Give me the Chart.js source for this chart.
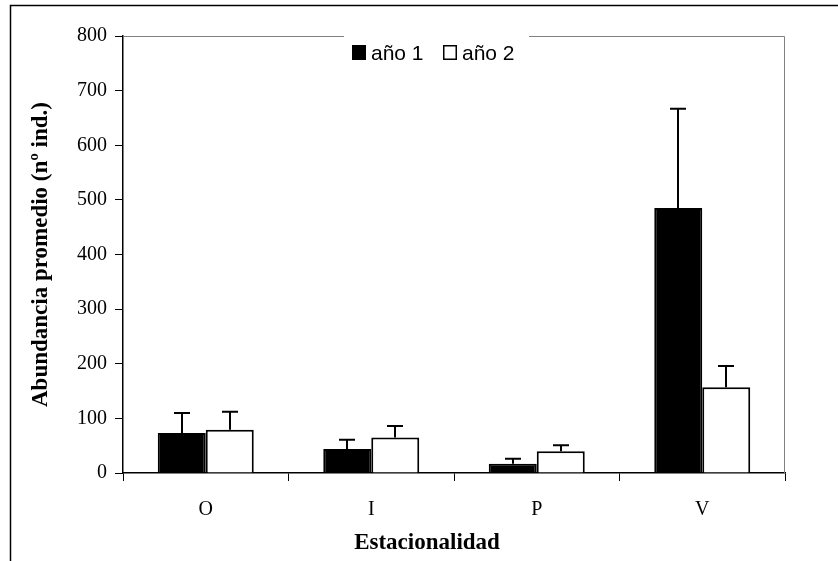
<!DOCTYPE html>
<html>
<head>
<meta charset="utf-8">
<script src="https://cdn.jsdelivr.net/npm/chart.js@4"></script>
<style>
html,body{margin:0;padding:0;background:#fff;}
#wrap{position:relative;width:838px;height:561px;}
</style>
</head>
<body>
<div id="wrap"><canvas id="c" width="838" height="561"></canvas></div>
<script>
const categories = ['O', 'I', 'P', 'V'];
const seriesNames = ['año 1', 'año 2'];
const year1 = [73, 44, 17, 485];
const year2 = [79, 65, 40, 157];
const year1Err = [37, 17, 9, 182];
const year2Err = [33, 21, 11, 39];
const yTicks = [0, 100, 200, 300, 400, 500, 600, 700, 800];
const yTitle = 'Abundancia promedio (nº ind.)';
const xTitle = 'Estacionalidad';

const errors = [year1Err, year2Err];

const decorPlugin = {
  id: 'decor',
  beforeDraw(chart) {
    const ctx = chart.ctx;
    ctx.save();
    ctx.fillStyle = '#fff';
    ctx.fillRect(0, 0, chart.width, chart.height);
    ctx.strokeStyle = '#000';
    ctx.lineWidth = 1.5;
    ctx.beginPath();
    ctx.moveTo(10.5, chart.height);
    ctx.lineTo(10.5, 5.5);
    ctx.lineTo(chart.width, 5.5);
    ctx.stroke();
    ctx.restore();
  },
  afterDatasetsDraw(chart) {
    const ctx = chart.ctx;
    const y = chart.scales.y;
    ctx.save();
    ctx.strokeStyle = '#000';
    ctx.lineWidth = 2;
    chart.data.datasets.forEach((ds, di) => {
      const meta = chart.getDatasetMeta(di);
      meta.data.forEach((el, i) => {
        const top = y.getPixelForValue(ds.data[i] + errors[di][i]);
        const x = Math.round(el.x);
        ctx.beginPath();
        ctx.moveTo(x, el.y);
        ctx.lineTo(x, top);
        ctx.moveTo(x - 8, top);
        ctx.lineTo(x + 8, top);
        ctx.stroke();
      });
    });
    ctx.restore();
  },
  afterDraw(chart) {
    const ctx = chart.ctx;
    const a = chart.chartArea;
    ctx.save();
    // plot frame top and right (gray)
    ctx.strokeStyle = '#808080';
    ctx.lineWidth = 1;
    ctx.beginPath();
    ctx.moveTo(a.left, a.top + 0.5);
    ctx.lineTo(a.right - 0.5, a.top + 0.5);
    ctx.lineTo(a.right - 0.5, a.bottom);
    ctx.stroke();
    // x axis title (offset left of plot centre as in the original)
    ctx.fillStyle = '#000';
    ctx.font = 'bold 23px "Liberation Serif", "Times New Roman", serif';
    ctx.textAlign = 'center';
    ctx.textBaseline = 'alphabetic';
    ctx.fillText(xTitle, a.left + 304, chart.height - 12);
    // legend
    const lx = a.left + 221;
    ctx.fillStyle = '#fff';
    ctx.fillRect(lx, a.top - 4, 185, 36);
    ctx.font = '21px "Liberation Sans", Arial, sans-serif';
    ctx.textAlign = 'left';
    const items = [
      {x: lx + 8, fill: '#000', label: chart.data.datasets[0].label},
      {x: lx + 99, fill: '#fff', label: chart.data.datasets[1].label}
    ];
    items.forEach(it => {
      ctx.fillStyle = it.fill;
      ctx.fillRect(it.x, a.top + 9, 14, 15);
      ctx.strokeStyle = '#000';
      ctx.lineWidth = 1.5;
      ctx.strokeRect(it.x + 0.75, a.top + 9.75, 12.5, 13.5);
      ctx.fillStyle = '#000';
      ctx.fillText(it.label, it.x + 19, a.top + 24);
    });
    ctx.restore();
  }
};

new Chart(document.getElementById('c'), {
  type: 'bar',
  data: {
    labels: categories,
    datasets: [
      {label: seriesNames[0], data: year1, backgroundColor: '#000', borderColor: '#000', borderWidth: 2},
      {label: seriesNames[1], data: year2, backgroundColor: '#fff', borderColor: '#000', borderWidth: 2}
    ]
  },
  options: {
    responsive: false,
    animation: false,
    devicePixelRatio: 1,
    layout: {padding: {top: 36, right: 53, left: 0, bottom: 0}},
    datasets: {bar: {categoryPercentage: 0.58, barPercentage: 1}},
    plugins: {legend: {display: false}, tooltip: {enabled: false}},
    scales: {
      x: {
        afterFit(s) { s.height = 88; },
        grid: {display: true, drawOnChartArea: false, drawTicks: true, tickLength: 8, color: '#000', offset: true},
        border: {display: true, color: '#000', width: 1.5},
        ticks: {font: {family: '"Liberation Serif", "Times New Roman", serif', size: 20}, color: '#000', padding: 17},
        title: {display: false}
      },
      y: {
        min: 0, max: 800,
        afterFit(s) { s.width = 123; },
        afterBuildTicks(s) { s.ticks = yTicks.map(v => ({value: v})); },
        grid: {display: true, drawOnChartArea: false, drawTicks: true, tickLength: 8, color: '#000'},
        border: {display: true, color: '#000', width: 1.5},
        ticks: {font: {family: '"Liberation Serif", "Times New Roman", serif', size: 20}, color: '#000', padding: 8},
        title: {display: true, text: yTitle, color: '#000', font: {family: '"Liberation Serif", "Times New Roman", serif', size: 23, weight: 'bold'}, padding: {top: 27, bottom: 0}}
      }
    }
  },
  plugins: [decorPlugin]
});
</script>
</body>
</html>
